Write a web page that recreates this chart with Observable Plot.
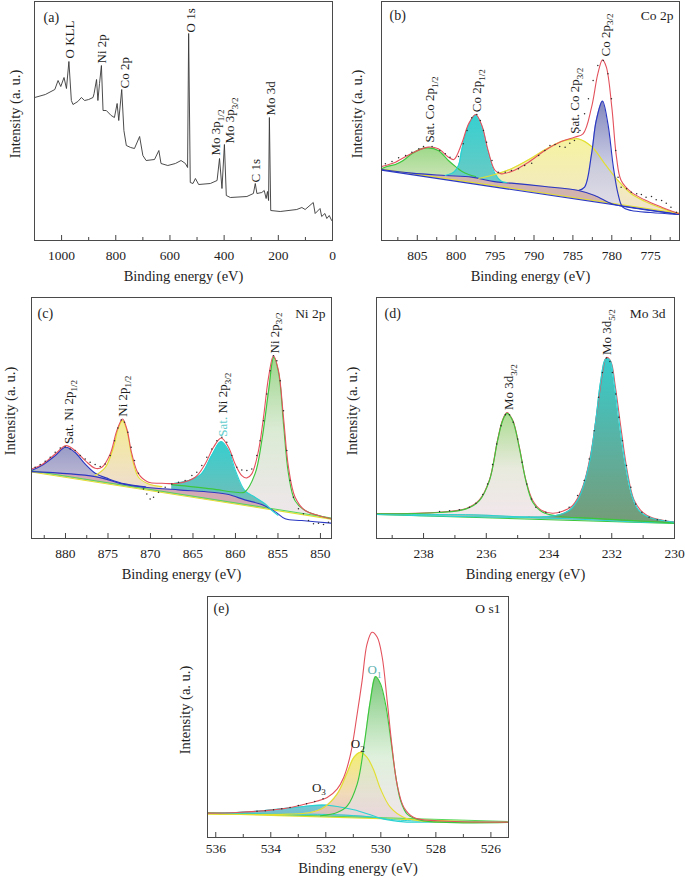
<!DOCTYPE html>
<html><head><meta charset="utf-8">
<script src="https://cdn.jsdelivr.net/npm/d3@7"></script>
<script src="https://cdn.jsdelivr.net/npm/@observablehq/plot@0.6"></script>
<style>
body{margin:0;background:#fff;}
#root{position:relative;width:685px;height:880px;overflow:hidden;background:#fff;}
#root svg{position:absolute;}
#root svg, #root svg text, #root svg tspan{font-family:"Liberation Serif","Times New Roman",Times,serif !important;}
</style></head><body><div id="root"></div>
<script>
// ---------- (a) survey ----------
const survey = [[1099,143],[1060,146],[1025,151],[1013,160],[1003,154],[991,163],[982,152],[973,179],[964,140],[958,136],[940,139],[927,143],[915,140],[900,141],[884,143],[880,147],[871,161],[866,140],[860,157],[853,175],[847,130],[835,130],[817,125],[805,123],[795,137],[789,120],[778,151],[770,110],[761,95],[745,93],[731,92],[712,104],[700,85],[688,80],[657,81],[641,90],[633,77],[608,75],[580,77],[559,80],[543,77],[535,73],[531,207],[525,58],[515,57],[506,62],[494,56],[451,57],[426,60],[417,82],[408,52],[399,96],[392,45],[377,43],[316,44],[292,47],[285,57],[279,47],[261,48],[252,50],[245,42],[240,49],[236,40],[233,123],[228,30],[193,29],[132,31],[113,33],[101,31],[71,38],[64,27],[46,32],[40,24],[28,27],[21,22],[12,25],[3,20]];
const surveyLabels = [[970,182,"O KLL"],[852,177,"Ni 2p"],[767,152,"Co 2p"],[522,208,"O 1s"],[430,85,"Mo 3p_{1/2}"],[378.5,97,"Mo 3p_{3/2}"],[282,58,"C 1s"],[227,125,"Mo 3d"]];
const surveyMajor = [1000,800,600,400,200,0];
const surveyMinor = [900,700,500,300,100];

// ---------- (b) Co 2p ----------
const coStraight = [[809.6,211],[771.3,78]];
const coShirley = [[809.6,213],[805.7,202],[801.4,195],[798.0,190],[795.9,180],[794.6,175],[792.9,172],[788.6,162],[784.3,150],[782.2,135],[780.0,110],[778.3,101],[771.3,78]];
const coSat12 = [[809.6,215],[808.9,222],[807.8,228],[806.8,240],[805.7,260],[804.6,274],[803.6,278],[802.3,270],[801.0,240],[800.0,220],[799.3,208],[798.4,198],[797.5,192]];
const coP12 = [[801.4,195],[800.3,205],[799.7,225],[799.3,270],[798.4,345],[797.5,376],[796.7,342],[795.9,265],[795.0,200],[794.2,178],[793.5,174]];
const coSat32 = [[797.1,186],[795.0,198],[792.9,215],[790.7,242],[788.6,272],[786.5,297],[784.8,305],[784.3,305],[782.6,282],[780.9,230],[779.2,180],[777.5,140],[775.8,118],[773.6,97],[771.3,80]];
const coP32 = [[784.3,150],[783.5,160],[782.6,260],[782.0,360],[781.2,418],[780.5,350],[779.8,220],[779.2,140],[778.6,100],[777.5,90],[775.0,84],[771.3,78]];
const coEnv = [[809.6,222],[807.8,235],[805.7,262],[803.6,280],[802.3,275],[801.0,250],[800.3,243],[799.3,290],[798.4,350],[797.5,378],[796.7,345],[795.9,270],[795.0,210],[794.2,200],[792.9,207],[790.7,235],[788.6,270],[786.5,297],[784.8,310],[783.7,320],[782.6,400],[781.8,500],[781.2,542],[780.7,520],[780.0,400],[779.4,250],[778.8,180],[777.5,145],[775.8,122],[773.6,100],[771.3,80]];
const coDots = [[809.75,225],[809.1,230],[808.25,237],[807.4,248],[806.5,255],[805.7,265],[804.8,275],[804.2,282],[803.1,282],[802.1,270],[801.4,260],[800.8,250],[799.7,252],[799.1,290],[798.6,330],[798.0,368],[797.35,378],[796.9,360],[796.5,330],[796.1,295],[795.4,240],[794.6,205],[793.7,205],[792.9,210],[792.0,215],[791.2,225],[790.3,232],[789.4,255],[788.6,270],[787.95,285],[787.3,288],[786.7,282],[786.0,280],[785.4,292],[784.8,300],[784.1,330],[783.5,380],[783.0,425],[782.4,480],[781.8,525],[781.1,540],[780.5,500],[780.05,425],[779.5,270],[779.2,190],[778.8,160],[778.1,155],[777.5,145],[776.8,140],[776.2,138],[775.6,130],[774.9,132],[774.3,122],[773.6,120],[773.0,112],[772.4,100],[771.7,85]];
const coLabels = [[803.4,294,"Sat. Co 2p_{1/2}"],[797.3,385,"Co 2p_{1/2}"],[784.7,320,"Sat. Co 2p_{3/2}"],[780.8,552,"Co 2p_{3/2}"]];
const coMajor = [805,800,795,790,785,780,775];
const coMinor = [807.5,802.5,797.5,792.5,787.5,782.5,777.5,772.5];

// ---------- (c) Ni 2p ----------
const niStraight = [[884.0,200],[848.7,58]];
const niShirley = [[884.0,201],[876.5,186],[873.0,162],[870.6,154],[866.7,146],[862.8,139],[860.8,132],[858.9,116],[856.9,102],[855.3,80],[854.15,59],[852.2,54],[848.7,46]];
const niSat12 = [[884.0,204],[882.8,219],[881.2,249],[880.0,274],[878.9,259],[877.7,224],[876.5,196],[874.9,179],[873.0,164],[870.6,155]];
const niP12 = [[876.5,189],[875.3,214],[874.35,274],[873.76,334],[873.29,354],[872.78,324],[872.19,244],[871.41,184],[870.23,164],[868.66,156]];
const niSat32 = [[867.5,164],[865.5,174],[864.0,194],[862.8,249],[861.7,291],[860.8,264],[860.0,204],[858.9,144],[857.7,124],[856.5,104],[855.7,84],[855.0,70]];
const niP32 = [[867.5,162],[862.8,149],[860.0,139],[858.9,140],[857.7,194],[856.9,294],[856.1,444],[855.5,544],[854.9,494],[854.35,344],[853.76,194],[853.0,114],[851.8,84],[848.7,59]];
const niEnv = [[884.0,209],[882.78,222],[881.21,254],[879.96,279],[878.86,264],[877.68,234],[876.51,211],[875.72,214],[874.74,254],[873.96,324],[873.29,359],[872.78,329],[872.19,254],[871.41,194],[870.23,169],[868.66,166],[866.7,166],[864.74,184],[863.57,224],[862.59,274],[861.68,302],[860.82,274],[860.04,224],[859.25,189],[858.66,182],[858.08,194],[857.29,264],[856.7,364],[856.11,484],[855.53,549],[854.94,504],[854.35,364],[853.76,214],[852.98,124],[851.8,84],[850.23,69],[848.7,59]];
const niDots = [[884.15,209],[883.57,214],[882.98,222],[882.39,232],[881.8,244],[881.21,259],[880.62,272],[880.04,276],[879.45,269],[878.86,264],[878.27,249],[877.68,239],[877.1,229],[876.51,222],[875.92,216],[875.33,224],[874.74,249],[874.23,294],[873.84,332],[873.45,356],[873.06,349],[872.66,319],[872.27,274],[871.88,234],[871.41,196],[870.82,149],[870.43,134],[870.04,119],[869.64,124],[869.06,139],[868.27,154],[867.49,164],[866.7,169],[865.92,174],[865.13,189],[864.55,199],[863.96,219],[863.37,244],[862.78,269],[862.19,294],[861.6,304],[861.02,289],[860.43,249],[859.84,214],[859.25,206],[858.66,204],[858.08,209],[857.49,249],[857.1,294],[856.7,354],[856.31,434],[855.92,504],[855.53,549],[855.13,534],[854.74,474],[854.35,384],[853.96,264],[853.57,174],[853.18,124],[852.59,89],[852.0,74],[851.41,54],[850.82,44],[850.23,46],[849.64,42],[849.06,49]];
const niLabels = [[879.6,284,"Sat. Ni 2p_{1/2}"],[873.2,366,"Ni 2p_{1/2}"],[861.45,306,"[[Sat.]] Ni 2p_{3/2}"],[855.4,556,"Ni 2p_{3/2}"]];
const niMajor = [880,875,870,865,860,855,850];
const niMinor = [882.5,877.5,872.5,867.5,862.5,857.5,852.5];

// ---------- (d) Mo 3d ----------
const moStraight = [[239.5,72],[230.0,45]];
const moShirley = [[239.5,74],[237.5,72],[236.4,71],[235.37,67],[234.31,62],[233.25,59],[232.19,54],[231.13,49],[230.0,47]];
const moD32 = [[239.5,74],[237.5,78],[236.64,89],[236.22,114],[235.9,174],[235.64,294],[235.48,354],[235.34,376],[235.16,354],[234.95,274],[234.74,174],[234.52,109],[234.2,79],[233.67,67],[232.72,61],[230.0,47]];
const moD52 = [[239.5,72],[234.84,64],[233.78,69],[233.36,84],[233.04,124],[232.72,224],[232.51,354],[232.35,474],[232.19,539],[232.06,536],[231.92,464],[231.77,354],[231.55,214],[231.34,124],[231.13,84],[230.81,64],[230.39,54],[230.0,49]];
const moEnv = [[239.5,74],[237.5,79],[236.64,90],[236.22,116],[235.9,176],[235.64,296],[235.48,356],[235.34,378],[235.16,356],[234.95,276],[234.74,176],[234.52,114],[234.26,86],[233.89,76],[233.57,82],[233.25,99],[232.93,154],[232.67,254],[232.45,394],[232.3,494],[232.17,544],[232.03,532],[231.89,459],[231.71,334],[231.5,199],[231.29,116],[231.02,79],[230.71,62],[230.0,49]];
const moDots = [[237.49,81],[237.17,83],[236.86,86],[236.54,94],[236.33,106],[236.11,132],[235.96,164],[235.8,222],[235.67,284],[235.53,339],[235.39,372],[235.26,372],[235.14,349],[235.0,299],[234.86,229],[234.71,164],[234.56,119],[234.42,94],[234.1,79],[233.67,79],[233.36,94],[233.09,129],[232.88,174],[232.72,239],[232.56,324],[232.42,424],[232.3,499],[232.17,542],[232.06,532],[231.98,499],[231.87,434],[231.77,364],[231.66,294],[231.53,219],[231.39,154],[231.24,104],[231.04,79],[230.81,64],[230.55,56],[230.28,54]];
const moLabels = [[235.28,386,"Mo 3d_{3/2}"],[232.15,551,"Mo 3d_{5/2}"]];
const moMajor = [238,236,234,232,230];
const moMinor = [239,237,235,233,231];

// ---------- (e) O 1s ----------
const oStraight = [[536.3,72],[525.4,45]];
const oShirley = [[536.3,72],[532.8,70],[531.6,68],[530.4,62],[529.65,54],[528.56,49],[525.4,45]];
const oO3 = [[536.3,72],[534.62,78],[533.4,88],[532.8,93],[532.13,97],[531.59,93],[530.98,83],[530.38,68],[529.89,55],[529.16,47],[527.95,46],[525.4,45]];
const oO2 = [[536.3,70],[533.4,70],[532.56,75],[532.07,90],[531.59,130],[531.22,195],[530.98,240],[530.74,255],[530.5,240],[530.25,200],[530.01,145],[529.65,90],[529.16,60],[528.56,50],[525.4,45]];
const oO1 = [[532.19,65],[531.59,75],[531.22,95],[530.86,160],[530.62,270],[530.38,410],[530.19,482],[530.01,460],[529.83,400],[529.65,300],[529.47,190],[529.28,110],[529.04,70],[528.56,52],[525.4,45]];
const oEnv = [[536.3,73],[535.22,75],[534.01,82],[533.28,90],[532.56,104],[531.95,120],[531.59,145],[531.35,180],[531.1,250],[530.86,370],[530.68,470],[530.5,580],[530.32,615],[530.13,600],[529.95,540],[529.77,410],[529.59,270],[529.41,160],[529.16,90],[528.8,60],[527.95,50],[525.4,46]];
const oDots = [[534.5,79],[534.2,80],[533.9,83],[533.6,86],[533.3,90],[533.0,96],[532.7,101],[532.4,108],[532.1,116]];
const oLabels = [[532.25,150,"O_{3}"],[530.84,280,"O_{2}"]];
const oLabelFaint = [[530.23,502,"O_{1}"]];
const oMajor = [536,534,532,530,528,526];
const oMinor = [535,533,531,529,527];

// ---------- rendering ----------
const FONT = '"Liberation Serif","Times New Roman",Times,serif';
const INK = "#1e1e1e";
const NS = "http://www.w3.org/2000/svg";
const X = d => d[0], Y = d => d[1];
const RED = "#e3525d", GREEN = "#3cc63c", CYAN = "#2bd2d2", YEL = "#e2df30", BLUE = "#2a38c2";
const root = document.getElementById("root");

function gradDefs(grads) {
  return () => {
    const defs = document.createElementNS(NS, "defs");
    for (const [id, stops] of grads) {
      const g = document.createElementNS(NS, "linearGradient");
      g.setAttribute("id", id);
      g.setAttribute("x1", "0"); g.setAttribute("y1", "0"); g.setAttribute("x2", "0"); g.setAttribute("y2", "1");
      for (const [o, c, a] of stops) {
        const s = document.createElementNS(NS, "stop");
        s.setAttribute("offset", o); s.setAttribute("stop-color", c);
        s.setAttribute("stop-opacity", a == null ? 1 : a);
        g.appendChild(s);
      }
      defs.appendChild(g);
    }
    return defs;
  };
}

function richText(svg) {
  svg.querySelectorAll("text").forEach(t => {
    const s = t.textContent;
    if (!/_\{|\[\[/.test(s)) return;
    const host = t.closest("[font-size]");
    const fs = host ? parseFloat(host.getAttribute("font-size")) : 13;
    while (t.firstChild) t.removeChild(t.firstChild);
    let shift = 0;
    for (const p of s.split(/(_\{[^}]*\}|\[\[[^\]]*\]\])/).filter(Boolean)) {
      const ts = document.createElementNS(NS, "tspan");
      if (p.startsWith("_{")) {
        ts.textContent = p.slice(2, -1);
        ts.setAttribute("font-size", (fs * 0.7).toFixed(2));
        ts.setAttribute("dy", (fs * 0.28).toFixed(2));
        shift = fs * 0.28;
      } else {
        ts.textContent = p.startsWith("[[") ? p.slice(2, -2) : p;
        if (p.startsWith("[[")) ts.setAttribute("fill", "#62cccc");
        if (shift) { ts.setAttribute("dy", (-shift).toFixed(2)); shift = 0; }
      }
      t.appendChild(ts);
    }
  });
}

function panel(o) {
  const y0 = o.y[0];
  const upp = (o.y[1] - o.y[0]) / (o.h - o.mt - o.mb);
  const m = [];
  if (o.grads) m.push(gradDefs(o.grads));
  for (const [data, fill] of (o.fills || []))
    m.push(Plot.areaY(data, {x: X, y1: y0, y2: Y, fill, curve: "catmull-rom", clip: true}));
  if (o.band) m.push(Plot.areaY(o.band[0], {x: X, y1: y0, y2: Y, fill: o.band[1], curve: "catmull-rom", clip: true}));
  if (o.mask) m.push(Plot.areaY(o.mask, {x: X, y1: y0, y2: Y, fill: "#fff", clip: true}));
  for (const [data, stroke, sw, curve, dy] of (o.lines || []))
    m.push(Plot.line(data, {x: X, y: Y, stroke, strokeWidth: sw || 1.15, curve: curve || "catmull-rom", dy: dy || 0, clip: true}));
  if (o.dots) m.push(Plot.dot(o.dots, {x: X, y: Y, r: 0.75, fill: "#2a2a2a", stroke: null, clip: true}));
  if (o.labels) m.push(Plot.text(o.labels, {x: X, y: Y, text: d => d[2], rotate: o.flatLabels ? 0 : -90,
      textAnchor: o.flatLabels ? "middle" : "start", lineAnchor: "middle", fontSize: 13, fill: INK}));
  if (o.faint) m.push(Plot.text(o.faint, {x: X, y: Y, text: d => d[2], textAnchor: "middle", lineAnchor: "middle", fontSize: 13, fill: "#5aaeae"}));
  m.push(Plot.ruleX(o.majors, {x: d => d, y1: y0, y2: y0 + 5 * upp, stroke: "#444", strokeWidth: 1}));
  m.push(Plot.ruleX(o.minors, {x: d => d, y1: y0, y2: y0 + 3 * upp, stroke: "#444", strokeWidth: 1}));
  m.push(Plot.axisX(o.majors, {tickSize: 0, tickPadding: o.tickPad || 10, tickFormat: d => String(d), label: null, fontSize: 13.5, fill: INK}));
  m.push(Plot.text(["Binding energy (eV)"], {text: d => d, frameAnchor: "bottom", dy: o.titleDy || 36, lineAnchor: "middle", textAnchor: "middle", fontSize: 14.5, fill: INK}));
  m.push(Plot.text(["Intensity (a. u.)"], {text: d => d, frameAnchor: "left", dx: -o.yTitleDx, dy: -7, rotate: -90, textAnchor: "middle", lineAnchor: "middle", fontSize: 14.5, fill: INK}));
  m.push(Plot.text([o.letter], {text: d => d, frameAnchor: "top-left", dx: o.letterDx, dy: o.letterDy, textAnchor: "start", lineAnchor: "middle", fontSize: 14, fill: INK}));
  if (o.tag) m.push(Plot.text([o.tag], {text: d => d, frameAnchor: "top-right", dx: -o.tagDx, dy: o.letterDy, textAnchor: "end", lineAnchor: "middle", fontSize: 13.5, fill: INK}));
  m.push(Plot.frame({stroke: "#4a4a4a", strokeWidth: 1}));
  const svg = Plot.plot({
    width: o.w, height: o.h,
    marginTop: o.mt, marginRight: o.mr, marginBottom: o.mb, marginLeft: o.ml,
    x: {domain: o.x},
    y: {domain: o.y, axis: null},
    style: {fontFamily: FONT, fontSize: "13px", color: INK, background: "transparent", overflow: "visible"},
    marks: m
  });
  svg.style.left = o.left + "px";
  svg.style.top = o.top + "px";
  root.appendChild(svg);
  richText(svg);
}

// (a)
panel({left: 0, top: 0, w: 342, h: 290, mt: 1, mr: 10, mb: 50, ml: 34,
  x: [1100, 0], y: [0, 239], majors: surveyMajor, minors: surveyMinor,
  lines: [[survey, "#383838", 0.9, "linear"]],
  labels: surveyLabels, letter: "(a)", letterDx: 9, letterDy: 16, yTitleDx: 19});

// (b)
panel({left: 340, top: 0, w: 345, h: 290, mt: 1, mr: 6, mb: 50, ml: 41,
  x: [809.6, 771.3], y: [0, 717], majors: coMajor, minors: coMinor,
  grads: [
    ["gb-green", [[0, "#98d683", 0.95], [0.45, "#d5e6bf", 0.9], [1, "#efdbe6", 0.9]]],
    ["gb-cyan", [[0, "#36d0d0", 1], [0.55, "#6ccac4", 1], [1, "#9cbab2", 1]]],
    ["gb-yellow", [[0, "#f5f296", 0.9], [0.5, "#f1e8b6", 0.9], [1, "#ecd4dc", 0.9]]],
    ["gb-blue", [[0, "#7a80ba", 0.95], [0.45, "#c4c6e0", 0.9], [1, "#f5eef4", 0.9]]]
  ],
  fills: [[coSat32, "url(#gb-yellow)"], [coSat12, "url(#gb-green)"], [coP12, "url(#gb-cyan)"], [coP32, "url(#gb-blue)"]],
  band: [coShirley, "#d3b3ae"], mask: coStraight,
  lines: [[coStraight, YEL, 1.1, "linear", -1.2], [coStraight, BLUE, 1.2, "linear"], [coShirley, BLUE, 1.1],
    [coSat12, GREEN], [coP12, CYAN], [coSat32, YEL], [coP32, BLUE], [coEnv, RED, 1.1]],
  dots: coDots, labels: coLabels,
  letter: "(b)", letterDx: 8, letterDy: 14, tag: "Co 2p", tagDx: 6, yTitleDx: 24});

// (c)
panel({left: 0, top: 290, w: 340, h: 300, mt: 7, mr: 9, mb: 52, ml: 31,
  x: [884.0, 848.7], y: [0, 724], majors: niMajor, minors: niMinor,
  grads: [
    ["gc-blue", [[0, "#9396c4", 0.95], [0.5, "#c6bed6", 0.9], [1, "#dcc4d2", 0.9]]],
    ["gc-yellow", [[0, "#f4ec8e", 0.95], [0.5, "#eedcc0", 0.9], [1, "#e6c6d0", 0.9]]],
    ["gc-cyan", [[0, "#36cfcf", 1], [0.55, "#69c0bb", 1], [1, "#a2b0b0", 1]]],
    ["gc-green", [[0, "#98d385", 0.95], [0.4, "#d6e9cf", 0.9], [1, "#f4e2f0", 0.9]]]
  ],
  fills: [[niSat12, "url(#gc-blue)"], [niP12, "url(#gc-yellow)"], [niP32, "url(#gc-green)"], [niSat32, "url(#gc-cyan)"]],
  band: [niShirley, "#d3a9b6"], mask: niStraight,
  lines: [[niStraight, YEL, 1.1, "linear"], [niStraight, "#58d858", 1, "linear", -1.2], [niShirley, BLUE, 1.1],
    [niSat12, BLUE], [niP12, YEL], [niSat32, CYAN], [niP32, GREEN], [niEnv, RED, 1.1]],
  dots: niDots, labels: niLabels,
  letter: "(c)", letterDx: 6, letterDy: 16, tag: "Ni 2p", tagDx: 6, yTitleDx: 21});

// (d)
panel({left: 340, top: 290, w: 345, h: 300, mt: 7, mr: 11, mb: 52, ml: 36,
  x: [239.5, 230], y: [0, 724], majors: moMajor, minors: moMinor,
  grads: [
    ["gd-green", [[0, "#a6da8a", 0.95], [0.45, "#e6e8da", 0.9], [1, "#f4e2f0", 0.9]]],
    ["gd-cyan", [[0, "#36cbcb", 1], [0.5, "#5cb0a0", 1], [1, "#7a9870", 1]]]
  ],
  fills: [[moD32, "url(#gd-green)"], [moD52, "url(#gd-cyan)"]],
  band: [moShirley, "#9fc2b2"], mask: moStraight,
  lines: [[moStraight, GREEN, 1.1, "linear"], [moShirley, CYAN, 1.0], [moEnv, RED, 1.1], [moD32, GREEN], [moD52, CYAN]],
  dots: moDots, labels: moLabels,
  letter: "(d)", letterDx: 8, letterDy: 16, tag: "Mo 3d", tagDx: 9, yTitleDx: 24});

// (e)
panel({left: 180, top: 590, w: 340, h: 290, mt: 6, mr: 12, mb: 43, ml: 27,
  x: [536.3, 525.36], y: [0, 722], majors: oMajor, minors: oMinor, tickPad: 6, titleDy: 31,
  grads: [
    ["ge-cyan", [[0, "#66c8d2", 0.95], [1, "#8a90b4", 0.95]]],
    ["ge-yellow", [[0, "#f2ee6a", 0.95], [0.5, "#efd6b2", 0.9], [1, "#dba6c6", 0.9]]],
    ["ge-green", [[0, "#6cc36c", 0.9], [0.5, "#d4ecd0", 0.75], [1, "#f2d8ea", 0.75]]]
  ],
  fills: [[oO3, "url(#ge-cyan)"], [oO2, "url(#ge-yellow)"], [oO1, "url(#ge-green)"]],
  band: [oShirley, "#aab4c8"], mask: oStraight,
  lines: [[oStraight, YEL, 1.1, "linear"], [oStraight, "#58d858", 1, "linear", -1], [oShirley, CYAN, 1.0],
    [oO3, CYAN], [oO2, YEL], [oO1, GREEN], [oEnv, RED, 1.1]],
  dots: oDots, labels: oLabels, flatLabels: true, faint: oLabelFaint,
  letter: "(e)", letterDx: 6, letterDy: 12, tag: "O s1", tagDx: 8, yTitleDx: 22});
</script></body></html>
